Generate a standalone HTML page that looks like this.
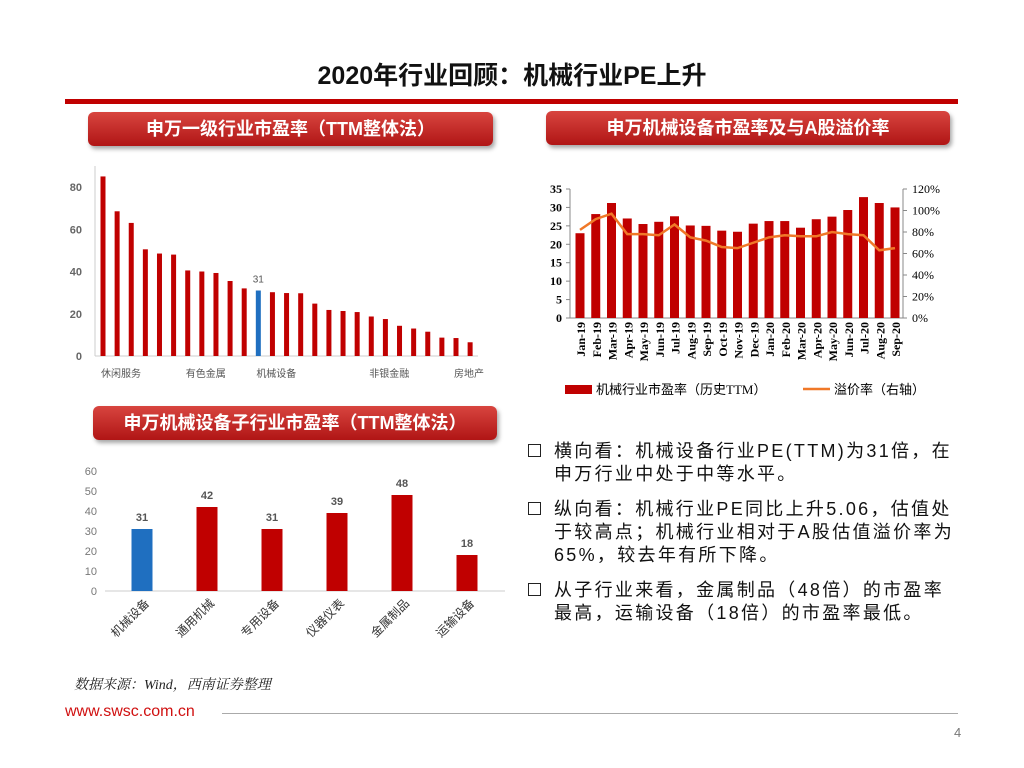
<!DOCTYPE html>
<html><head><meta charset="utf-8"><style>
body{margin:0;width:1024px;height:768px;background:#fff;position:relative;overflow:hidden;font-family:"Liberation Sans","Noto Sans CJK SC",sans-serif;}
.abs{position:absolute;}
.pill{position:absolute;height:34px;border-radius:6px;background:linear-gradient(#d8453f,#b01515);color:#fff;font-weight:bold;font-size:18px;line-height:34px;text-align:center;box-shadow:2px 3px 4px rgba(0,0,0,0.35);}
.bul{position:absolute;left:528px;font-size:18px;line-height:23px;color:#111;width:460px;white-space:nowrap;letter-spacing:2.3px;}
.bul span.box{position:absolute;left:0;top:4px;width:11px;height:11px;border:1.5px solid #222;}
.bul div.t{margin-left:26px;}
</style></head><body>
<div class="abs" style="left:0;width:1024px;top:56px;text-align:center;font-size:25px;font-weight:bold;color:#111">2020年行业回顾：机械行业PE上升</div>
<div class="abs" style="left:65px;top:99px;width:893px;height:5px;background:#c00000"></div>
<div class="pill" style="left:88px;top:112px;width:405px">申万一级行业市盈率（TTM整体法）</div>
<div class="pill" style="left:546px;top:111px;width:404px">申万机械设备市盈率及与A股溢价率</div>
<div class="pill" style="left:93px;top:406px;width:404px">申万机械设备子行业市盈率（TTM整体法）</div>

<svg class="abs" style="left:0;top:0" width="1024" height="768" id="svg"></svg>

<div class="bul" style="top:440px"><span class="box"></span><div class="t">横向看：机械设备行业PE(TTM)为31倍，在<br>申万行业中处于中等水平。</div></div>
<div class="bul" style="top:498px"><span class="box"></span><div class="t">纵向看：机械行业PE同比上升5.06，估值处<br>于较高点；机械行业相对于A股估值溢价率为<br>65%，较去年有所下降。</div></div>
<div class="bul" style="top:579px"><span class="box"></span><div class="t">从子行业来看，金属制品（48倍）的市盈率<br>最高，运输设备（18倍）的市盈率最低。</div></div>

<div class="abs" style="left:74px;top:674px;font-size:14px;font-style:italic;color:#222;font-family:'Liberation Serif','Noto Serif CJK SC',serif">数据来源：Wind，西南证券整理</div>
<div class="abs" style="left:65px;top:703px;font-size:16px;color:#d01010">www.swsc.com.cn</div>
<div class="abs" style="left:222px;top:713px;width:736px;height:1px;background:#aaa"></div>
<div class="abs" style="left:954px;top:725px;font-size:13px;color:#777">4</div>

<script>
const indValues=[85,68.5,63,50.5,48.5,48,40.5,40,39.3,35.5,32,31,30.2,29.8,29.7,24.8,21.8,21.3,20.8,18.7,17.5,14.3,13,11.5,8.7,8.5,6.5];
const indHighlight=11;
const indLabels=[[0,"休闲服务"],[6,"有色金属"],[11,"机械设备"],[19,"非银金融"],[25,"房地产"]];
const indTicks=[0,20,40,60,80];
const months=["Jan-19","Feb-19","Mar-19","Apr-19","May-19","Jun-19","Jul-19","Aug-19","Sep-19","Oct-19","Nov-19","Dec-19","Jan-20","Feb-20","Mar-20","Apr-20","May-20","Jun-20","Jul-20","Aug-20","Sep-20"];
const peValues=[23,28.2,31.2,27,25.5,26.1,27.6,25.1,25,23.7,23.4,25.6,26.3,26.3,24.5,26.8,27.5,29.3,32.8,31.2,30];
const premium=[82,92,97,78,78,77,87,75,72,66,65,70,75,77,76,76,80,78,77,63,65];
const peTicks=[0,5,10,15,20,25,30,35];
const premTicks=[0,20,40,60,80,100,120];
const subCats=["机械设备","通用机械","专用设备","仪器仪表","金属制品","运输设备"];
const subValues=[31,42,31,39,48,18];
const subTicks=[0,10,20,30,40,50,60];

const NS="http://www.w3.org/2000/svg";
const svg=document.getElementById('svg');
function mk(tag,attrs,txt){const e=document.createElementNS(NS,tag);for(const k in attrs)e.setAttribute(k,attrs[k]);if(txt!==undefined)e.textContent=txt;svg.appendChild(e);return e;}

// Chart 1
const y1=v=>356-v*(169/80), x1=i=>103+i*14.12;
mk('line',{x1:95,y1:356,x2:478,y2:356,stroke:'#ccc'});
mk('line',{x1:95,y1:166,x2:95,y2:356,stroke:'#ccc'});
indTicks.forEach(t=>{let e=mk('text',{x:82,y:y1(t)+4,'text-anchor':'end','font-size':11,fill:'#666','font-weight':'bold'},t);

});
indValues.forEach((v,i)=>{let r=mk('rect',{x:x1(i)-2.5,y:y1(v),width:5,height:356-y1(v),fill:i===indHighlight?'#1f6fc0':'#c00000'});

});
let lb=mk('text',{x:x1(indHighlight),y:y1(indValues[indHighlight])-8,'text-anchor':'middle','font-size':10,fill:'#555'},indValues[indHighlight]);


indLabels.forEach(([i,s])=>{let e=mk('text',{x:x1(i)-2,y:377,'font-size':10,fill:'#555'},s);

});

// Chart 2
const x2=i=>580+i*15.75, y2=v=>318-v*(129/35), yp=v=>318-v*(129/120);
mk('line',{x1:570,y1:318,x2:903,y2:318,stroke:'#888'});
mk('line',{x1:570,y1:189,x2:570,y2:318,stroke:'#888'});
mk('line',{x1:903,y1:189,x2:903,y2:318,stroke:'#888'});
peTicks.forEach(t=>{mk('line',{x1:566,y1:y2(t),x2:570,y2:y2(t),stroke:'#888'});
let e=mk('text',{x:562,y:y2(t)+4,'text-anchor':'end','font-size':12,'font-weight':'bold','font-family':'Liberation Serif'},t);

});
premTicks.forEach(t=>{mk('line',{x1:903,y1:yp(t),x2:907,y2:yp(t),stroke:'#888'});
let e=mk('text',{x:912,y:yp(t)+4,'font-size':12,'font-family':'Liberation Serif'},t+'%');

});
peValues.forEach((v,i)=>{let r=mk('rect',{x:x2(i)-4.5,y:y2(v),width:9,height:318-y2(v),fill:'#c00000'});

});
let pl=mk('polyline',{points:premium.map((v,i)=>x2(i)+','+yp(v)).join(' '),fill:'none',stroke:'#f07828','stroke-width':2.5});


months.forEach((m,i)=>{let e=mk('text',{x:0,y:0,transform:`translate(${x2(i)+5},322) rotate(-90)`,'text-anchor':'end','font-size':12,'font-weight':'bold','font-family':'Liberation Serif'},m);

});
mk('rect',{x:565,y:385,width:27,height:9,fill:'#c00000'});
let l1=mk('text',{x:596,y:394,'font-size':13,'font-family':'Liberation Serif'},'机械行业市盈率（历史TTM）');


mk('line',{x1:803,y1:389,x2:830,y2:389,stroke:'#f07828','stroke-width':2.5});
let l2=mk('text',{x:834,y:394,'font-size':13,'font-family':'Liberation Serif'},'溢价率（右轴）');



// Chart 3
const x3=i=>142+i*65, y3=v=>591-v*2;
mk('line',{x1:105,y1:591,x2:505,y2:591,stroke:'#ccc'});
subTicks.forEach(t=>{let e=mk('text',{x:97,y:y3(t)+4,'text-anchor':'end','font-size':11,fill:'#777'},t);

});
subValues.forEach((v,i)=>{let r=mk('rect',{x:x3(i)-10.5,y:y3(v),width:21,height:591-y3(v),fill:i===0?'#1f6fc0':'#c00000'});


let t=mk('text',{x:x3(i),y:y3(v)-8,'text-anchor':'middle','font-size':11,'font-weight':'bold',fill:'#555'},v);


let c=mk('text',{x:0,y:0,transform:`translate(${x3(i)+8},604) rotate(-45)`,'text-anchor':'end','font-size':12,fill:'#333'},subCats[i]);

});
</script>
</body></html>
